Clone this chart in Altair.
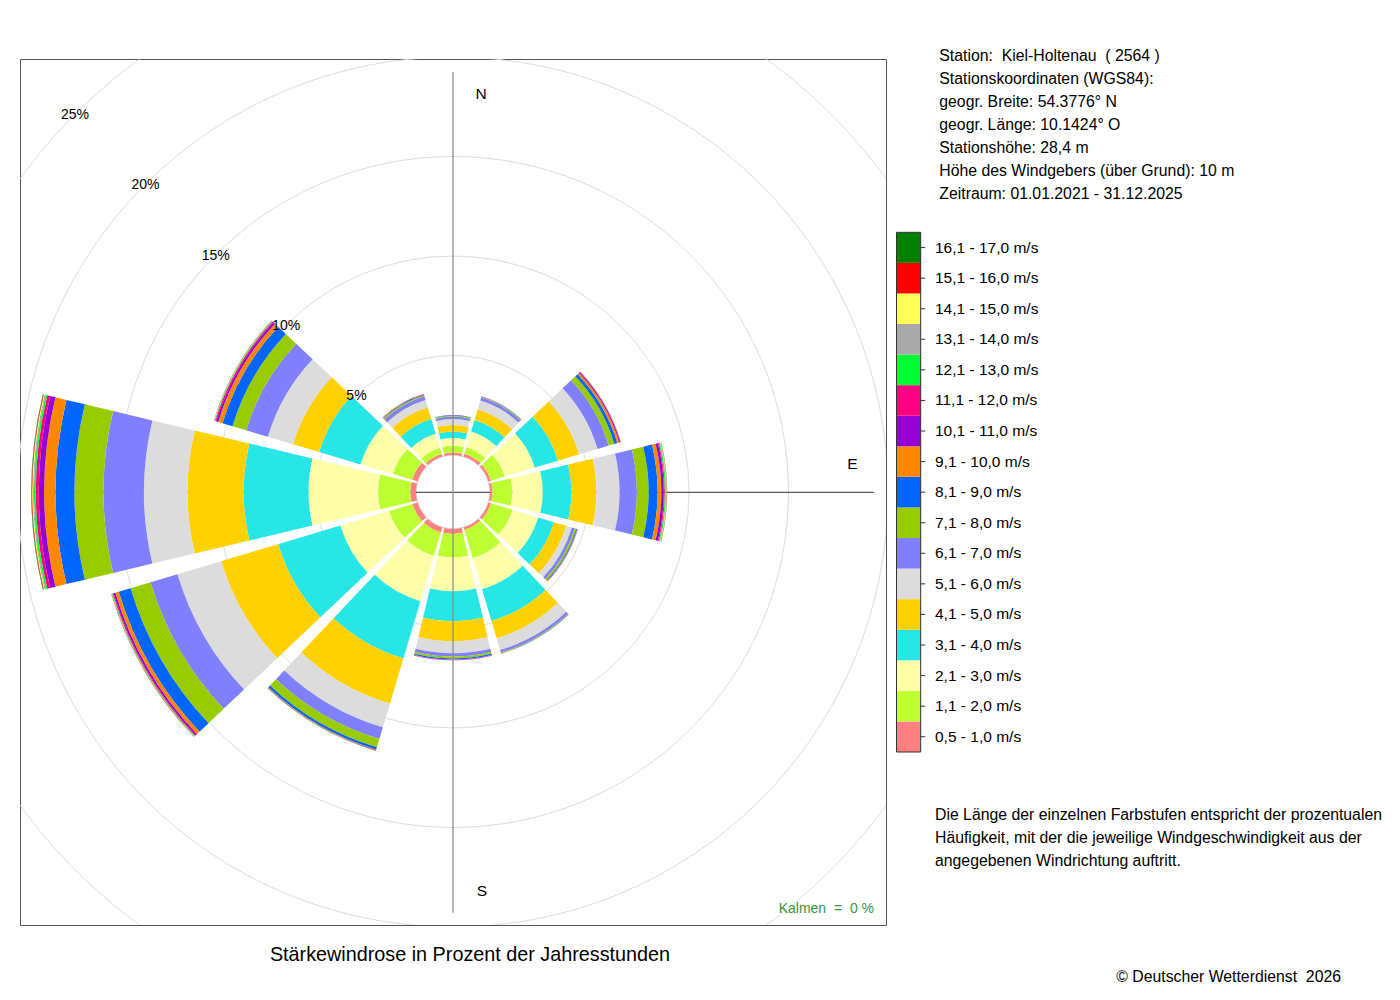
import math
import altair as alt
import pandas as pd

FONT = "Liberation Sans"

# speed classes (bottom -> top of each sector)
classes = ["0,5 - 1,0 m/s", "1,1 - 2,0 m/s", "2,1 - 3,0 m/s", "3,1 - 4,0 m/s",
           "4,1 - 5,0 m/s", "5,1 - 6,0 m/s", "6,1 - 7,0 m/s", "7,1 - 8,0 m/s",
           "8,1 - 9,0 m/s", "9,1 - 10,0 m/s", "10,1 - 11,0 m/s", "11,1 - 12,0 m/s",
           "12,1 - 13,0 m/s", "13,1 - 14,0 m/s", "14,1 - 15,0 m/s", "15,1 - 16,0 m/s",
           "16,1 - 17,0 m/s"]
colors = ["#FF8080", "#BEFF33", "#FFFFAA", "#29E6E6", "#FFD100", "#DCDCDC",
          "#8080FF", "#99CC00", "#0066FF", "#FF8800", "#9400D3", "#FF0080",
          "#00FF33", "#A9A9A9", "#FFFF55", "#FF0000", "#007F00"]

directions = [0, 30, 60, 90, 120, 150, 180, 210, 240, 270, 300, 330]

# percent of hours per speed class, one list per direction
N   = [0.12, 0.34, 0.39, 0.33, 0.32, 0.31, 0.12, 0.04, 0.02, 0.01, 0.005, 0.003, 0.002, 0.001, 0.001, 0, 0]
NNE = [0.15, 0.35, 0.81, 0.61, 0.56, 0.46, 0.15, 0.03, 0.02, 0.01, 0.005, 0.003, 0.002, 0.001, 0.001, 0, 0]
ENE = [0.13, 0.73, 1.57, 1.22, 1.11, 0.96, 0.59, 0.29, 0.16, 0.10, 0.05, 0.02, 0.01, 0.005, 0.005, 0.003, 0.002]
E   = [0.12, 1.01, 1.52, 1.44, 1.26, 1.16, 0.87, 0.59, 0.45, 0.19, 0.12, 0.05, 0.05, 0.03, 0.02, 0.01, 0.01]
ESE = [0.13, 1.14, 1.34, 0.83, 0.64, 0.30, 0.15, 0.08, 0.04, 0.015, 0.01, 0.005, 0.003, 0.002, 0.001, 0, 0]
SSE = [0.13, 1.49, 1.62, 1.67, 0.91, 0.61, 0.13, 0.035, 0.015, 0.005, 0.003, 0.002, 0.001, 0, 0, 0, 0]
S   = [0.25, 1.18, 1.69, 1.52, 1.01, 0.59, 0.17, 0.09, 0.06, 0.02, 0.01, 0.005, 0.003, 0.002, 0.001, 0, 0]
SSW = [0.27, 1.22, 2.38, 3.00, 2.37, 1.24, 0.61, 0.44, 0.12, 0.03, 0.015, 0.01, 0.005, 0.003, 0.002, 0.001, 0]
WSW = [0.27, 1.22, 2.56, 3.26, 2.99, 2.29, 1.41, 1.05, 0.62, 0.18, 0.09, 0.05, 0.03, 0.02, 0.01, 0.01, 0.005]
W   = [0.29, 1.62, 3.49, 3.26, 2.82, 2.19, 2.03, 1.46, 0.95, 0.57, 0.27, 0.15, 0.09, 0.05, 0.04, 0.03, 0.02]
WNW = [0.28, 1.02, 1.69, 2.17, 1.37, 1.32, 1.14, 0.71, 0.53, 0.22, 0.10, 0.06, 0.03, 0.02, 0.01, 0.01, 0.005]
NNW = [0.13, 0.33, 0.73, 0.78, 0.61, 0.38, 0.20, 0.06, 0.03, 0.02, 0.01, 0.01, 0.005, 0.003, 0.002, 0.001, 0]

ring_pcts = [5, 10, 15, 20, 25]
ring_labels = ["5%", "10%", "15%", "20%", "25%"]

station_lines = [
    "Station:\u00a0 Kiel-Holtenau\u00a0 ( 2564 )",
    "Stationskoordinaten (WGS84):",
    "geogr. Breite: 54.3776\u00b0 N",
    "geogr. L\u00e4nge: 10.1424\u00b0 O",
    "Stationsh\u00f6he: 28,4 m",
    "H\u00f6he des Windgebers (\u00fcber Grund): 10 m",
    "Zeitraum: 01.01.2021 - 31.12.2025",
]
note_lines = [
    "Die L\u00e4nge der einzelnen Farbstufen entspricht der prozentualen",
    "H\u00e4ufigkeit, mit der die jeweilige Windgeschwindigkeit aus der",
    "angegebenen Windrichtung auftritt.",
]
title_text = "St\u00e4rkewindrose in Prozent der Jahresstunden"
copyright_text = "\u00a9 Deutscher Wetterdienst\u00a0 2026"
calm_text = "Kalmen\u00a0 =\u00a0 0 %"

# ---------------------------------------------------------------- data table
sectors = [N, NNE, ENE, E, ESE, SSE, S, SSW, WSW, W, WNW, NNW]
rows = []
for d, vals in zip(directions, sectors):
    for k, (c, v) in enumerate(zip(classes, vals)):
        rows.append({"dir": d, "k": k, "cls": c, "value": v})
df = pd.DataFrame(rows)

HALF = 13.4  # half angular width of a sector (degrees)

theta_scale = alt.Scale(type="linear", domain=[0, 360], range=[0, 2 * math.pi])
radius_scale = alt.Scale(type="linear", domain=[0, 20], range=[37, 435])
color_scale = alt.Scale(domain=classes, range=colors)

W_, H_ = 866, 866
CX, CY = W_ / 2, H_ / 2
AX = 420  # half length of the axis cross in px

# horizontal axis line (beneath sectors)
hline = alt.Chart(pd.DataFrame({"a": [0]})).mark_rule(color="#333333", strokeWidth=1).encode(
    x=alt.value(CX - AX), x2=alt.value(CX + AX + 1), y=alt.value(CY + 0.3))

rose = alt.Chart(df).transform_filter("datum.value > 0").transform_stack(
    stack="value", groupby=["dir"], as_=["r0", "r1"],
    sort=[alt.SortField("k", order="ascending")]
).transform_calculate(
    t0=f"datum.dir - {HALF}", t1=f"datum.dir + {HALF}"
).mark_arc().encode(
    theta=alt.Theta("t0:Q", scale=theta_scale, stack=False),
    theta2="t1:Q",
    radius=alt.Radius("r1:Q", scale=radius_scale, stack=False),
    radius2="r0:Q",
    color=alt.Color("cls:N", scale=color_scale, legend=None),
)

grid_df = pd.DataFrame({"p": ring_pcts, "a0": [0] * 5, "a1": [360] * 5, "lab": ring_labels,
                        "ang": [315] * 5})
grid = alt.Chart(grid_df).mark_arc(filled=False, stroke="#DDDDDD", strokeWidth=1, clip=True).encode(
    theta=alt.Theta("a0:Q", scale=theta_scale, stack=False),
    theta2="a1:Q",
    radius=alt.Radius("p:Q", scale=radius_scale, stack=False),
)
grid_labels = alt.Chart(grid_df).mark_text(font=FONT, fontSize=14, color="black",
                                           align="center", baseline="middle", dy=1).encode(
    theta=alt.Theta("ang:Q", scale=theta_scale, stack=False),
    radius=alt.Radius("p:Q", scale=radius_scale, stack=False),
    text="lab:N",
)

vline = alt.Chart(pd.DataFrame({"a": [0]})).mark_rule(color="#888888", strokeWidth=1.2).encode(
    x=alt.value(CX), y=alt.value(CY - AX), y2=alt.value(CY + AX + 0.7))

def label(txt, x, y, size=15.5, align="center", baseline="middle", color="black"):
    return alt.Chart(pd.DataFrame({"a": [0]})).mark_text(
        font=FONT, fontSize=size, align=align, baseline=baseline, color=color
    ).encode(x=alt.value(x), y=alt.value(y), text=alt.value(txt))

lbl_n = label("N", 461, 35)
lbl_s = label("S", 462, 832)
lbl_e = label("E", 832.3, 404.5)
lbl_calm = label(calm_text, 854, 854, size=14, align="right", baseline="alphabetic", color="#339933")

# ---------------------------------------------------------------- legend
leg_df = pd.DataFrame({"cls": classes})
leg_y = alt.Scale(domain=classes[::-1], range=[173.3, 693.0], paddingInner=0, paddingOuter=0)
LX0, LX1 = 876.5, 900.7
leg_rect = alt.Chart(leg_df).mark_rect().encode(
    y=alt.Y("cls:N", scale=leg_y, axis=None),
    x=alt.value(LX0), x2=alt.value(LX1),
    color=alt.Color("cls:N", scale=color_scale, legend=None),
)
leg_tick = alt.Chart(leg_df).mark_rule(color="#333333", strokeWidth=1).encode(
    y=alt.Y("cls:N", scale=leg_y, axis=None),
    x=alt.value(LX1), x2=alt.value(LX1 + 4.5),
)
leg_text = alt.Chart(leg_df).mark_text(font=FONT, fontSize=15.5, align="left",
                                       baseline="middle", color="black").encode(
    y=alt.Y("cls:N", scale=leg_y, axis=None),
    x=alt.value(915),
    text="cls:N",
)
leg_frame = alt.Chart(pd.DataFrame({"a": [0]})).mark_rect(
    filled=False, stroke="#333333", strokeWidth=1).encode(
    x=alt.value(LX0), x2=alt.value(LX1), y=alt.value(173.3), y2=alt.value(693.0))

# ---------------------------------------------------------------- texts
station = alt.Chart(pd.DataFrame({"a": [0]})).mark_text(
    font=FONT, fontSize=15.8, align="left", baseline="alphabetic",
    lineBreak="\n", lineHeight=22.9, color="black"
).encode(x=alt.value(919.3), y=alt.value(2.2), text=alt.value("\n".join(station_lines)))

note = alt.Chart(pd.DataFrame({"a": [0]})).mark_text(
    font=FONT, fontSize=15.8, align="left", baseline="alphabetic",
    lineBreak="\n", lineHeight=23, color="black"
).encode(x=alt.value(915), y=alt.value(761), text=alt.value("\n".join(note_lines)))

title = label(title_text, 450, 902, size=19.8, baseline="alphabetic")
copyright_ = label(copyright_text, 1321, 922.5, size=15.8, align="right", baseline="alphabetic")

chart = alt.layer(
    grid, hline, rose, grid_labels, vline, lbl_n, lbl_s, lbl_e, lbl_calm,
    leg_rect, leg_frame, leg_tick, leg_text, station, note, title, copyright_,
).properties(
    width=W_, height=H_,
    autosize=alt.AutoSizeParams(type="none"),
    padding={"left": 12, "top": 51, "right": 500, "bottom": 62},
    background="white",
).configure_view(stroke="#555555", strokeWidth=1)

chart.save("out.html", embed_options={"renderer": "svg", "actions": False})
